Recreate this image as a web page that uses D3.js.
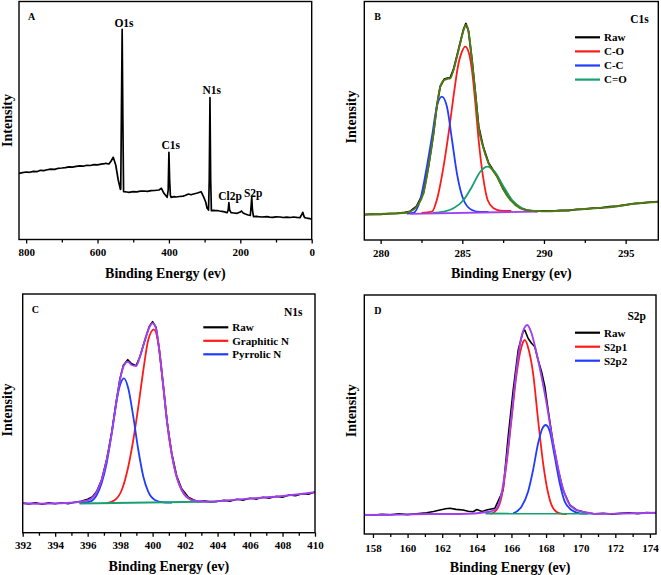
<!DOCTYPE html>
<html><head><meta charset="utf-8">
<script src="https://cdn.jsdelivr.net/npm/d3@7"></script>
<style>body{margin:0;background:#fff}svg{display:block}text{font-family:"Liberation Serif","Times New Roman",serif;font-weight:bold}</style>
</head><body><svg id="c" width="661" height="575"></svg>
<script>
// ---------- DATA (binding energy eV, intensity a.u.) ----------
const aTicks = [800, 600, 400, 200, 0];
const aMinor = [700, 500, 300, 100];
const aRaw = [[820,66.2],[810,66.9],[800,67.5],[790,67.2],[780,68.1],[770,67.8],[760,69.2],[750,68.9],[744,69.5],[732,70.4],[720,70.1],[710,71.2],[700,71.5],[690,71.9],[680,72.6],[670,72.4],[660,73.1],[650,73.6],[640,73.3],[630,74.2],[620,74],[610,74.8],[600,74.6],[590,75.3],[580,75.9],[577,76.2],[568,75.5],[562,78.5],[556,82.2],[549,74.5],[542,59.5],[536,50.2],[535,50.5],[533,129.5],[531,210.2],[529,119.5],[527,48],[526,47.8],[518,47.5],[512,47.2],[500,47.9],[490,47.7],[480,48.3],[470,48.5],[460,48.2],[450,48.9],[440,49],[428,49.5],[421,51.2],[414,46.2],[405,42.2],[402,49.5],[400,87.2],[398,60],[396,44.5],[394,42.2],[385,42.9],[380,42.5],[370,43],[360,43.4],[355,44],[345,45.5],[338,44.8],[331,45.5],[320,46.5],[310,47.8],[303,42.8],[297,37.5],[293,31.2],[289,29.5],[287,59.5],[285,141.8],[283,59.5],[281,28.8],[275,29.2],[270,28.8],[264,29],[258,28.5],[252,28.2],[247,27.8],[242,27.4],[237,26.8],[234,29.5],[232,36.8],[230,29.5],[226,26.8],[218,26.5],[209,26.2],[200,27.5],[197,28.5],[192,26.5],[186,25.5],[178,24.5],[172,24],[169.5,34.5],[168,42.2],[166,29.5],[163,22.8],[155,23.1],[150,22.8],[140,22.5],[125,22.8],[118,22.3],[110,22.2],[100,22.6],[88,22.5],[80,22],[70,22.3],[60,22],[51,22.5],[42,22.1],[33,21.8],[27,25.5],[25,27.2],[22,23.5],[19.6,21.8],[15,21.5],[10,21.2],[4.7,20.8],[0,20.2]];
const aPeaks = [{name:"O1s", e:530}, {name:"C1s", e:399}, {name:"N1s", e:284}, {name:"Cl2p", e:229}, {name:"S2p", e:168}];

const bTicks = [280, 285, 290, 295];
const bMinor = [282.5, 287.5, 292.5];
const bLegend = ["Raw", "C-O", "C-C", "C=O"];
const bRaw = [[279,25.3],[279.5,25.9],[280,25.7],[280.5,26.4],[281,26.6],[281.5,27.5],[281.8,28.6],[282.2,33.8],[282.62,47],[282.93,73.8],[283.24,107],[283.44,133.8],[283.65,153.6],[283.89,160.8],[284.1,161.9],[284.26,162.2],[284.46,170.6],[284.67,184],[284.87,197.4],[285.08,211],[285.22,216.5],[285.38,209],[285.59,180.6],[285.8,147.2],[286,113.8],[286.27,93.9],[286.61,77],[287.13,63.8],[287.53,50.4],[287.94,40.5],[288.56,32],[289,29.6],[289.5,28.7],[290,29.1],[290.5,28.9],[291,29.6],[291.5,29.5],[292,30.6],[292.5,30.8],[293,31.8],[293.5,32.1],[294,33.3],[294.5,33.9],[295,35.1],[295.5,36.4],[296,36.9],[296.5,37.8],[297,38.4]];
const bFit = [[279,25.5],[280,26],[281,26.7],[281.5,27.2],[281.8,28.3],[282.2,33.3],[282.62,46.7],[282.93,73.3],[283.24,106.7],[283.44,133.3],[283.65,153.3],[283.89,160],[284.1,161.2],[284.26,161.7],[284.46,170],[284.67,183.3],[284.87,196.7],[285.08,210],[285.22,215],[285.38,208.3],[285.59,180],[285.8,146.7],[286,113.3],[286.27,93.3],[286.61,76.7],[287.13,63.3],[287.53,50],[287.94,40],[288.56,31.7],[289.17,29.3],[289.58,29],[290,28.7],[291,29.2],[292.24,30.7],[293.3,32],[294.29,33.3],[295.72,36.7],[297,38]];
const bCO = [[282.5,27],[283.14,28.3],[283.44,40],[283.85,73.3],[284.16,106.7],[284.46,143.3],[284.77,176.7],[284.98,188.3],[285.18,193.3],[285.38,188.3],[285.59,170],[285.8,136.7],[286,100],[286.27,63.3],[286.55,40],[286.92,31.7],[287.33,29.3],[288,29]];
const bCC = [[281.6,26.5],[282,27],[282.42,40],[282.83,73.3],[283.14,103.3],[283.44,133.3],[283.75,143.3],[284.06,133.3],[284.37,100],[284.67,66.7],[285.08,40],[285.59,30],[286.1,28],[286.6,28]];
const bCeqO = [[283.2,27],[283.85,28.3],[284.46,31.7],[285.08,40],[285.59,53.3],[286.1,68.3],[286.55,73.3],[286.98,68.3],[287.53,53.3],[288.05,40],[288.66,31.7],[289.17,29.3],[289.6,29]];
const bBg = [[281.8,26.2],[289.6,28.5]];

const cTicks = [392, 394, 396, 398, 400, 402, 404, 406, 408, 410];
const cMinor = [393, 395, 397, 399, 401, 403, 405, 407, 409];
const cLegend = ["Raw", "Graphitic N", "Pyrrolic N"];
const cRaw = [[392,29.6],[392.4,28.8],[392.8,30],[393.2,28.4],[393.6,29.8],[394,28.9],[394.4,29.9],[394.8,29.1],[395.2,30.4],[395.6,31.5],[396,33.5],[396.3,36],[396.56,41.5],[396.86,53],[397.17,73],[397.48,100],[397.79,134],[397.99,154],[398.2,167.5],[398.47,173],[398.71,169],[398.98,167],[399.22,176],[399.53,193],[399.8,206.5],[400,211],[400.21,205.5],[400.41,183],[400.66,146],[400.9,110],[401.17,80],[401.48,57],[401.79,44],[402.2,35.5],[402.5,33],[402.8,31],[403.2,31.8],[403.6,30.4],[404,31.5],[404.4,32.3],[404.8,31.6],[405.2,33.4],[405.6,32.6],[406,34.5],[406.4,33.6],[406.8,35.4],[407.2,34.6],[407.6,36.3],[408,35.5],[408.4,37.8],[408.8,36.9],[409.2,39],[409.6,38.5],[410,40.8]];
const cFit = [[392,29.4],[393,29],[394.3,29.4],[395.53,31],[396.14,33.4],[396.56,41],[396.86,52.7],[397.17,72.7],[397.48,99.4],[397.79,132.7],[397.99,152.7],[398.2,166],[398.47,171],[398.71,167.7],[398.98,166.7],[399.22,176],[399.53,192.7],[399.8,205.4],[400,209.4],[400.21,204.4],[400.41,182.7],[400.66,146],[400.9,109.4],[401.17,79.4],[401.48,56],[401.79,42.7],[402.2,34.4],[402.71,31.7],[403.53,31],[404.35,32],[406.2,34.4],[408.05,36.7],[410,40.4]];
const cGraphitic = [[397.17,29.4],[397.68,32.7],[398.1,42.7],[398.5,66],[398.81,92.7],[399.12,126],[399.43,162.7],[399.73,192.7],[400.08,203.4],[400.35,189.4],[400.62,152.7],[400.9,109.4],[401.17,79.4],[401.48,56],[401.79,42.7],[402.2,34.4],[402.71,31]];
const cPyrrolic = [[395.5,29.5],[396.14,31],[396.56,37.7],[396.86,49.4],[397.17,69.4],[397.48,99.4],[397.79,132.7],[398.03,149.4],[398.24,154.4],[398.5,144.4],[398.81,116],[399.12,82.7],[399.43,56],[399.73,41],[400.14,32.7],[400.66,30.4],[401.2,30]];
const cBg = [[395.5,29.2],[404,31.2]];

const dTicks = [158, 160, 162, 164, 166, 168, 170, 172, 174];
const dMinor = [159, 161, 163, 165, 167, 169, 171, 173];
const dLegend = ["Raw", "S2p1", "S2p2"];
const dRaw = [[157.5,19.5],[158,18.7],[158.5,19.6],[159,19.2],[159.5,20.1],[160,19.4],[160.5,20.3],[161.1,21.3],[161.5,22.5],[161.87,24],[162.2,25.2],[162.45,25.7],[162.8,24.6],[163.2,24],[163.5,22.8],[163.79,22.3],[164,24.5],[164.3,22.6],[164.56,24],[165.04,25.7],[165.52,44],[165.81,97.3],[166.1,144],[166.39,184],[166.67,202.3],[166.77,204],[166.96,195.7],[167.16,190.7],[167.35,187.3],[167.54,174],[167.74,162.3],[167.93,147.3],[168.12,124],[168.41,90.7],[168.7,64],[168.98,44],[169.37,29],[169.76,24],[170.33,21.3],[170.8,20.2],[171.3,20.8],[171.8,19.9],[172.3,20.6],[172.8,21.3],[173.3,20.4],[173.8,21.5],[174.35,21]];
const dFit = [[157.5,19],[159,19.2],[161.3,20],[163,20],[164.75,22.3],[165.14,25.7],[165.43,40.7],[165.72,74],[166,117.3],[166.29,164],[166.58,197.3],[166.91,209],[167.16,200.7],[167.45,180.7],[167.74,157.3],[168.03,130.7],[168.31,100.7],[168.6,74],[168.89,50.7],[169.27,32.3],[169.76,24],[170.43,21.3],[170.9,20],[172.5,20.5],[174.35,21.3]];
const dS2p1 = [[164.8,20],[165.14,24],[165.43,37.3],[165.72,70.7],[166,114],[166.29,159],[166.58,187.3],[166.77,194],[167,184],[167.25,160.7],[167.54,114],[167.83,70.7],[168.12,40.7],[168.41,25.7],[168.79,20.7],[169.2,20]];
const dS2p2 = [[166.1,20.7],[166.58,27.3],[166.96,42.3],[167.25,64],[167.54,90.7],[167.79,105.7],[167.98,109],[168.22,102.3],[168.5,77.3],[168.79,50.7],[169.08,32.3],[169.47,24],[169.95,20.7],[170.4,20.3]];
const dBg = [[164.5,20.5],[170.8,20.3]];

// ---------- STYLE / LAYOUT ----------
const COL = {raw:"#000", red:"#ff1a1a", blue:"#1f3cff", teal:"#17a070", olive:"#527a14", purple:"#a040f0"};
const svg = d3.select("#c");

function panel(cfg){
  const g = svg.append("g");
  const x = d3.scaleLinear().domain(cfg.domain).range([cfg.x0, cfg.x1]);
  const y = d3.scaleLinear().domain([0, cfg.y1 - cfg.y0]).range([cfg.y1, cfg.y0]);
  const clipId = "clip" + cfg.letter;
  svg.append("clipPath").attr("id", clipId).append("rect")
    .attr("x", cfg.x0).attr("y", cfg.y0).attr("width", cfg.x1 - cfg.x0).attr("height", cfg.y1 - cfg.y0);
  const plot = g.append("g").attr("clip-path", `url(#${clipId})`);
  const line = (curve) => d3.line().x(d => x(d[0])).y(d => y(d[1])).curve(curve);
  cfg.series.forEach(s => {
    plot.append("path").datum(s.data).attr("fill","none").attr("stroke", s.color)
      .attr("stroke-width", s.w || 1.8).attr("stroke-linejoin","round")
      .attr("d", line(s.smooth ? d3.curveMonotoneX : d3.curveLinear));
  });
  g.append("rect").attr("x", cfg.x0).attr("y", cfg.y0).attr("width", cfg.x1 - cfg.x0).attr("height", cfg.y1 - cfg.y0)
    .attr("fill","none").attr("stroke","#000").attr("stroke-width",1.4);
  const ax = g.append("g").attr("transform", `translate(0,${cfg.y1})`)
    .call(d3.axisBottom(x).tickValues(cfg.ticks).tickSize(4).tickPadding(cfg.pad || 5).tickFormat(d3.format("d")));
  ax.select(".domain").remove();
  ax.selectAll("text").attr("font-size", 11).attr("font-family", '"Liberation Serif",serif').attr("font-weight","bold").attr("fill","#000");
  ax.selectAll("line").attr("stroke-width", 1.3);
  const mi = g.append("g").attr("transform", `translate(0,${cfg.y1})`)
    .call(d3.axisBottom(x).tickValues(cfg.minor).tickSize(3).tickFormat(""));
  mi.select(".domain").remove();
  mi.selectAll("line").attr("stroke-width", 1.3);
  g.append("text").attr("x", (cfg.x0 + cfg.x1) / 2).attr("y", cfg.y1 + 38).attr("text-anchor","middle")
    .attr("font-size", 14).text("Binding Energy (ev)");
  g.append("text").attr("transform", `translate(${cfg.ylx},${cfg.yly}) rotate(-90)`).attr("text-anchor","middle")
    .attr("dy","0.35em").attr("font-size", 14).text("Intensity");
  g.append("text").attr("x", cfg.x0 + cfg.letterDx).attr("y", cfg.y0 + 18.5).attr("font-size", 10).text(cfg.letter);
  if (cfg.tag) g.append("text").attr("x", cfg.tag.x).attr("y", cfg.tag.y).attr("text-anchor","middle").attr("font-size", 11.5).text(cfg.tag.t);
  if (cfg.legend) {
    cfg.legend.items.forEach((it, i) => {
      const yy = cfg.legend.y + i * cfg.legend.dy;
      g.append("line").attr("x1", cfg.legend.x).attr("x2", cfg.legend.x + 25).attr("y1", yy).attr("y2", yy)
        .attr("stroke", it.color).attr("stroke-width", 2.2);
      g.append("text").attr("x", cfg.legend.x + 29).attr("y", yy).attr("dy","0.35em").attr("font-size", 11).text(it.label);
    });
  }
  return {g, x, y};
}

// Panel A
const pA = panel({letter:"A", letterDx:9, domain:[820,0], x0:19, x1:311.7, y0:1.5, y1:239.5, ticks:aTicks, minor:aMinor,
  ylx:7, yly:120.5,
  series:[{data:aRaw, color:COL.raw, w:1.7}]});
const aHeights = {"O1s":27.3, "C1s":149, "N1s":94, "Cl2p":200, "S2p":196.7};
aPeaks.forEach(p => {
  pA.g.append("text").attr("x", pA.x(p.e) + (p.name === "Cl2p" ? 0 : 1.5)).attr("y", aHeights[p.name])
    .attr("text-anchor","middle").attr("font-size", 11.5).text(p.name);
});

// Panel B
panel({letter:"B", letterDx:10, domain:[279,297], x0:364.3, x1:658.3, y0:1.5, y1:240, ticks:bTicks, minor:bMinor,
  ylx:351.3, yly:117,
  tag:{t:"C1s", x:639.5, y:23},
  legend:{x:575, y:37.3, dy:14.1, items:[{label:bLegend[0],color:COL.raw},{label:bLegend[1],color:COL.red},{label:bLegend[2],color:COL.blue},{label:bLegend[3],color:COL.teal}]},
  series:[{data:bRaw, color:COL.raw, w:1.8},
          {data:bCO, color:COL.red, smooth:true},{data:bCC, color:COL.blue, smooth:true},{data:bCeqO, color:COL.teal, smooth:true},
          {data:bBg, color:COL.purple, w:1.8},
          {data:bFit, color:COL.olive, smooth:true, w:1.9}]});

// Panel C
panel({letter:"C", letterDx:9, domain:[392,410], x0:22.7, x1:315, y0:294, y1:532.7, ticks:cTicks, minor:cMinor,
  ylx:7.2, yly:410,
  tag:{t:"N1s", x:293.3, y:316},
  legend:{x:203.3, y:327.3, dy:13.5, items:[{label:cLegend[0],color:COL.raw},{label:cLegend[1],color:COL.red},{label:cLegend[2],color:COL.blue}]},
  series:[{data:cRaw, color:COL.raw, w:1.6},
          {data:cGraphitic, color:COL.red, smooth:true},{data:cPyrrolic, color:COL.blue, smooth:true},
          {data:cBg, color:COL.teal, w:1.8},
          {data:cFit, color:COL.purple, smooth:true, w:1.9}]});

// Panel D
panel({letter:"D", letterDx:10, domain:[157.5,174.35], x0:364.3, x1:656, y0:295, y1:534, ticks:dTicks, minor:dMinor,
  ylx:351.3, yly:410.8, pad:6,
  tag:{t:"S2p", x:636.7, y:319.5},
  legend:{x:575, y:332.7, dy:14, items:[{label:dLegend[0],color:COL.raw},{label:dLegend[1],color:COL.red},{label:dLegend[2],color:COL.blue}]},
  series:[{data:dRaw, color:COL.raw, w:1.6},
          {data:dS2p1, color:COL.red, smooth:true},{data:dS2p2, color:COL.blue, smooth:true},
          {data:dBg, color:COL.teal, w:1.8},
          {data:dFit, color:COL.purple, smooth:true, w:1.9}]});
</script></body></html>
